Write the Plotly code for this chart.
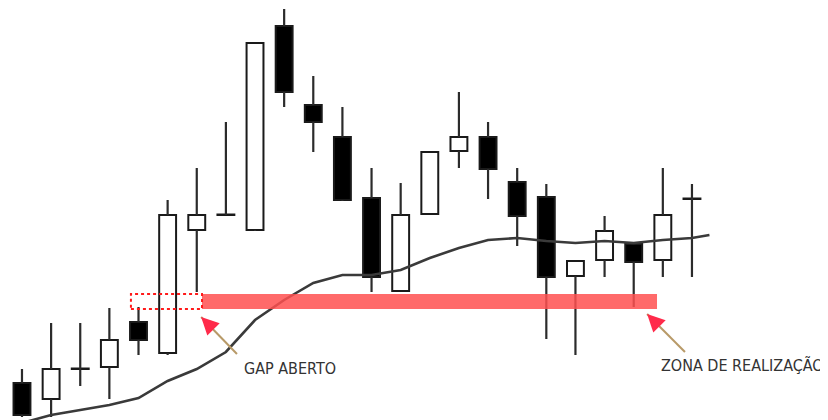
import plotly.graph_objects as go

# ---- data (price units) ----
idx = list(range(24))
opens  = [53.7, 52.1, 55.1, 55.3, 59.8, 56.7, 69.0, 70.5, 69.0, 89.4, 81.5, 78.3,
          72.2, 62.9, 70.6, 76.9, 78.3, 73.8, 72.3, 64.4, 66.0, 67.6, 66.0, 72.1]
highs  = [55.1, 59.7, 59.7, 61.2, 61.3, 72.0, 75.2, 79.8, 87.7, 91.1, 84.4, 81.3,
          75.2, 73.7, 76.8, 82.8, 79.8, 75.2, 73.6, 65.9, 70.4, 67.6, 75.2, 73.6]
lows   = [50.3, 50.3, 53.4, 52.1, 56.5, 56.5, 62.8, 70.5, 68.9, 81.3, 76.8, 71.9,
          62.8, 62.9, 70.6, 75.2, 72.1, 67.4, 58.1, 56.5, 64.3, 61.3, 64.3, 64.3]
closes = [50.5, 55.1, 55.1, 58.0, 58.0, 70.5, 70.5, 70.5, 87.7, 82.8, 79.8, 72.0,
          64.3, 70.5, 76.8, 78.3, 75.1, 70.4, 64.3, 65.9, 68.9, 65.8, 70.5, 72.1]

ma_x = list(range(24)) + [23.6]
ma_y = [49.7, 50.5, 51.0, 51.5, 52.2, 53.9, 55.1, 56.8, 60.0, 62.0, 63.7, 64.5,
        64.5, 65.0, 66.2, 67.2, 68.0, 68.2, 67.9, 67.7, 67.9, 67.7, 68.0, 68.2, 68.5]

zone_low, zone_high = 61.1, 62.6
gap_x0, gap_x1 = 3.74, 6.18
zone_x1 = 21.8

gap_label = "GAP ABERTO"
zone_label = "ZONA DE REALIZAÇÃO"

# ---- figure ----
fig = go.Figure()

# wicks (upper and lower segments so bodies stay clean)
wx, wy = [], []
for i, o, h, l, c in zip(idx, opens, highs, lows, closes):
    top, bot = max(o, c), min(o, c)
    if h > top:
        wx += [i, i, None]; wy += [top, h, None]
    if l < bot:
        wx += [i, i, None]; wy += [bot, l, None]
fig.add_trace(go.Scatter(x=wx, y=wy, mode="lines",
                         line=dict(color="#2b2b2b", width=2.2),
                         hoverinfo="skip", showlegend=False))

# bodies
base = [min(o, c) for o, c in zip(opens, closes)]
height = [max(abs(c - o), 0.05) for o, c in zip(opens, closes)]
colors = ["#000000" if c < o else "#ffffff" for o, c in zip(opens, closes)]
fig.add_trace(go.Bar(x=idx, y=height, base=base, width=0.58,
                     marker=dict(color=colors, line=dict(color="#1a1a1a", width=2)),
                     showlegend=False, hoverinfo="skip"))

# moving average
fig.add_trace(go.Scatter(x=ma_x, y=ma_y, mode="lines",
                         line=dict(color="#3a3a3a", width=2.6),
                         hoverinfo="skip", showlegend=False))

# zone and gap box
fig.add_shape(type="rect", x0=gap_x1, x1=zone_x1, y0=zone_low, y1=zone_high,
              fillcolor="rgba(255,80,80,0.85)", line=dict(width=0), layer="above")
fig.add_shape(type="rect", x0=gap_x0, x1=gap_x1, y0=zone_low, y1=zone_high,
              fillcolor="rgba(0,0,0,0)", line=dict(color="#ff1a1a", width=2, dash="dot"),
              layer="above")

# arrows: tan shaft + red head
arrows = [((6.15, 60.3), (7.38, 56.6)), ((21.46, 60.6), (22.76, 56.8))]
for (hx, hy), (tx, ty) in arrows:
    fig.add_shape(type="line", x0=tx, y0=ty, x1=hx, y1=hy,
                  line=dict(color="#b89a68", width=2), layer="above")
    fig.add_annotation(x=hx, y=hy, ax=6, ay=6, text="", showarrow=True,
                       arrowhead=2, arrowsize=1.4, arrowwidth=2.5,
                       arrowcolor="#ff2a4a")

label_font = dict(family="Liberation Sans Narrow, DejaVu Sans Condensed, sans-serif",
                  size=16, color="#333333")
fig.add_annotation(x=7.57, y=55.2, text=gap_label, showarrow=False,
                   xanchor="left", yanchor="middle", font=label_font)
fig.add_annotation(x=21.87, y=55.5, text=zone_label, showarrow=False,
                   xanchor="left", yanchor="middle", font=label_font)

# page body has an 8px default margin, so the figure is 8px smaller
fig.update_layout(
    width=820, height=412,
    margin=dict(l=0, r=0, t=0, b=0),
    paper_bgcolor="white", plot_bgcolor="white",
    showlegend=False, barmode="overlay",
    xaxis=dict(range=[-0.48, 27.67], visible=False, fixedrange=True),
    yaxis=dict(range=[50, 91.2], visible=False, fixedrange=True),
)

fig.write_html("out.html")
